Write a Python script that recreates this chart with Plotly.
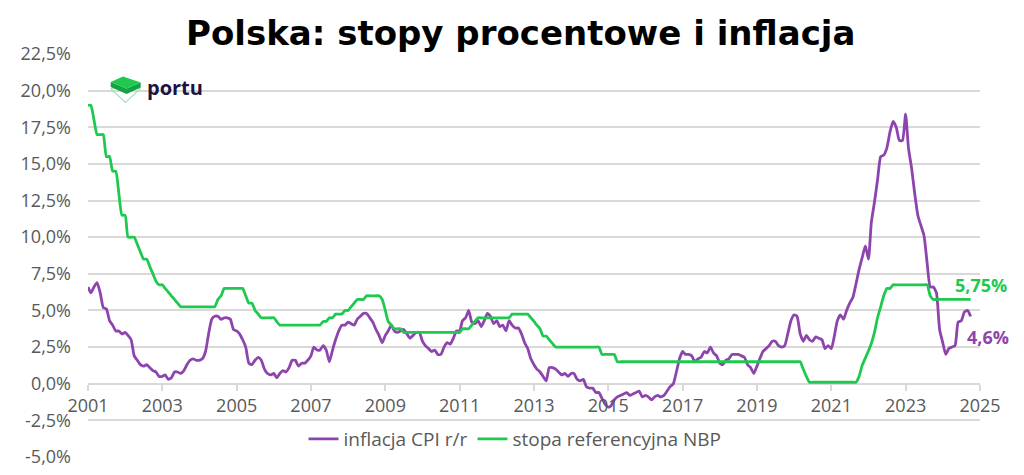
import pandas as pd
import plotly.graph_objects as go

# monthly points, first one sits on the "2001" tick
months = pd.date_range("2001-02-01", "2024-11-01", freq="MS")

# inflacja CPI r/r (%)
cpi = [
    6.6, 6.2, 6.6, 6.9, 6.2, 5.2, 5.1, 4.3, 4.0, 3.6, 3.6,
    3.4, 3.5, 3.3, 3.0, 1.9, 1.6, 1.3, 1.2, 1.3, 1.1, 0.9, 0.8,
    0.5, 0.5, 0.6, 0.3, 0.4, 0.8, 0.8, 0.7, 0.9, 1.3, 1.6, 1.7,
    1.6, 1.6, 1.7, 2.2, 3.4, 4.4, 4.6, 4.6, 4.4, 4.5, 4.5, 4.4,
    3.7, 3.6, 3.4, 3.0, 2.5, 1.4, 1.3, 1.6, 1.8, 1.6, 1.0, 0.7,
    0.6, 0.7, 0.4, 0.7, 0.9, 0.8, 1.1, 1.6, 1.6, 1.2, 1.4, 1.4,
    1.6, 1.9, 2.5, 2.3, 2.3, 2.6, 2.3, 1.5, 2.3, 3.0, 3.6, 4.0,
    4.0, 4.2, 4.1, 4.0, 4.4, 4.6, 4.8, 4.8, 4.5, 4.2, 3.7, 3.3,
    2.8, 3.3, 3.6, 4.0, 3.6, 3.5, 3.6, 3.7, 3.4, 3.1, 3.3, 3.5,
    3.5, 2.9, 2.6, 2.4, 2.2, 2.3, 2.0, 2.0, 2.5, 2.8, 2.7, 3.1,
    3.6, 3.6, 4.3, 4.5, 5.0, 4.2, 4.1, 4.3, 3.9, 4.3, 4.8, 4.6,
    4.1, 4.3, 3.9, 4.0, 3.6, 4.3, 4.0, 3.8, 3.8, 3.4, 2.8, 2.4,
    1.7, 1.3, 1.0, 0.8, 0.5, 0.2, 1.1, 1.1, 1.0, 0.8, 0.6, 0.7,
    0.5, 0.7, 0.7, 0.3, 0.2, 0.3, -0.2, -0.3, -0.3, -0.6, -0.6, -1.0,
    -1.4, -1.6, -1.5, -1.1, -0.9, -0.8, -0.7, -0.6, -0.8, -0.7, -0.6, -0.5,
    -0.9, -0.8, -0.9, -1.1, -0.9, -0.8, -0.9, -0.8, -0.5, -0.2, 0.0, 0.8,
    1.7, 2.2, 2.0, 2.0, 1.9, 1.5, 1.7, 1.8, 2.2, 2.1, 2.5, 2.1,
    1.9, 1.4, 1.3, 1.6, 1.7, 2.0, 2.0, 2.0, 1.9, 1.8, 1.3, 1.1,
    0.7, 1.2, 1.7, 2.2, 2.4, 2.6, 2.9, 2.9, 2.6, 2.5, 2.6, 3.4,
    4.3, 4.7, 4.6, 3.4, 2.9, 3.3, 3.0, 2.9, 3.2, 3.1, 3.0, 2.4,
    2.6, 2.4, 3.2, 4.3, 4.7, 4.4, 5.0, 5.5, 5.9, 6.8, 7.8, 8.6,
    9.4, 8.5, 11.0, 12.4, 13.9, 15.5, 15.6, 16.1, 17.2, 17.9, 17.5, 16.6,
    16.6, 18.4, 16.1, 14.7, 13.0, 11.5, 10.8, 10.1, 8.2, 6.6, 6.6, 6.2,
    3.7, 2.8, 2.0, 2.4, 2.5, 2.6, 4.2, 4.3, 4.9, 5.0, 4.6,
]

# stopa referencyjna NBP (%)
ref_rate = [
    19.0, 19.0, 18.0, 17.0, 17.0, 17.0, 15.5, 15.5, 14.5, 14.5, 13.0,
    11.5, 11.5, 10.0, 10.0, 10.0, 9.5, 9.0, 8.5, 8.5, 8.0, 7.5, 7.0,
    6.75, 6.75, 6.5, 6.25, 6.0, 5.75, 5.5, 5.25, 5.25, 5.25, 5.25, 5.25,
    5.25, 5.25, 5.25, 5.25, 5.25, 5.25, 5.25, 5.75, 6.0, 6.5, 6.5, 6.5,
    6.5, 6.5, 6.5, 6.5, 6.0, 5.5, 5.5, 5.0, 4.75, 4.5, 4.5, 4.5,
    4.5, 4.5, 4.25, 4.0, 4.0, 4.0, 4.0, 4.0, 4.0, 4.0, 4.0, 4.0,
    4.0, 4.0, 4.0, 4.0, 4.0, 4.25, 4.25, 4.5, 4.5, 4.75, 4.75, 4.75,
    5.0, 5.0, 5.25, 5.5, 5.75, 5.75, 5.75, 6.0, 6.0, 6.0, 6.0, 6.0,
    5.75, 5.0, 4.25, 4.0, 3.75, 3.75, 3.75, 3.5, 3.5, 3.5, 3.5, 3.5,
    3.5, 3.5, 3.5, 3.5, 3.5, 3.5, 3.5, 3.5, 3.5, 3.5, 3.5, 3.5,
    3.5, 3.5, 3.75, 3.75, 3.75, 4.0, 4.25, 4.5, 4.5, 4.5, 4.5, 4.5,
    4.5, 4.5, 4.5, 4.5, 4.5, 4.5, 4.75, 4.75, 4.75, 4.75, 4.75, 4.75,
    4.5, 4.25, 4.0, 3.75, 3.25, 3.25, 3.0, 2.75, 2.5, 2.5, 2.5, 2.5,
    2.5, 2.5, 2.5, 2.5, 2.5, 2.5, 2.5, 2.5, 2.5, 2.5, 2.5, 2.0,
    2.0, 2.0, 2.0, 2.0, 1.5, 1.5, 1.5, 1.5, 1.5, 1.5, 1.5, 1.5,
    1.5, 1.5, 1.5, 1.5, 1.5, 1.5, 1.5, 1.5, 1.5, 1.5, 1.5, 1.5,
    1.5, 1.5, 1.5, 1.5, 1.5, 1.5, 1.5, 1.5, 1.5, 1.5, 1.5, 1.5,
    1.5, 1.5, 1.5, 1.5, 1.5, 1.5, 1.5, 1.5, 1.5, 1.5, 1.5, 1.5,
    1.5, 1.5, 1.5, 1.5, 1.5, 1.5, 1.5, 1.5, 1.5, 1.5, 1.5, 1.5,
    1.5, 1.5, 1.5, 1.5, 1.0, 0.5, 0.1, 0.1, 0.1, 0.1, 0.1, 0.1,
    0.1, 0.1, 0.1, 0.1, 0.1, 0.1, 0.1, 0.1, 0.1, 0.1, 0.5, 1.25,
    1.75, 2.25, 2.75, 3.5, 4.5, 5.25, 6.0, 6.5, 6.5, 6.75, 6.75, 6.75,
    6.75, 6.75, 6.75, 6.75, 6.75, 6.75, 6.75, 6.75, 6.75, 6.0, 5.75, 5.75,
    5.75, 5.75, 5.75, 5.75, 5.75, 5.75, 5.75, 5.75, 5.75, 5.75, 5.75,
]

tick_dates = pd.date_range("2001-02-01", "2025-02-01", freq="24MS")
tick_labels = [str(y) for y in range(2001, 2026, 2)]

y_ticks = [-5.0, -2.5, 0.0, 2.5, 5.0, 7.5, 10.0, 12.5, 15.0, 17.5, 20.0, 22.5]
y_labels = [f"{v:.1f}".replace(".", ",") + "%" for v in y_ticks]

PURPLE = "#8e44ad"
GREEN = "#1fc94f"
GREY = "#595959"
GRID = "#d9d9d9"
FONT = "Open Sans"

# the page body adds 8px on the left/top, so the figure is a bit smaller
OFF = 8
W, H = 1024 - OFF, 475 - OFF
ML, MT = 88 - OFF, 54 - OFF
MR, MB = 44, 18
PW, PH = W - ML - MR, H - MT - MB


# screen pixel -> paper coords
def px(x):
    return (x - OFF - ML) / PW


def py(y):
    return (H - MB - (y - OFF)) / PH


fig = go.Figure()
fig.add_trace(go.Scatter(
    x=months, y=cpi, name="inflacja CPI r/r", mode="lines",
    line=dict(color=PURPLE, width=2.8, shape="spline", smoothing=0.5),
))
fig.add_trace(go.Scatter(
    x=months, y=ref_rate, name="stopa referencyjna NBP", mode="lines",
    line=dict(color=GREEN, width=2.8, shape="spline", smoothing=0.5),
))

# end labels
fig.add_annotation(
    x=months[-1], y=ref_rate[-1], xref="x", yref="y",
    text="<b>" + f"{ref_rate[-1]:.2f}".replace(".", ",") + "%</b>",
    showarrow=False, xshift=10, yshift=14,
    font=dict(family=FONT, size=18, color=GREEN),
)
fig.add_annotation(
    x=months[-1], y=cpi[-1], xref="x", yref="y",
    text="<b>" + f"{cpi[-1]:.1f}".replace(".", ",") + "%</b>",
    showarrow=False, xshift=17, yshift=-21,
    font=dict(family=FONT, size=18, color=PURPLE),
)

# title
fig.add_annotation(
    x=px(520), y=py(33), xref="paper", yref="paper",
    xanchor="center", yanchor="middle",
    text="<b>Polska: stopy procentowe i inflacja</b>", showarrow=False,
    font=dict(family="DejaVu Sans", size=34, color="black"),
)

# portu logo
outline = f"M {px(111)},{py(89)} L {px(125.5)},{py(82)} L {px(140)},{py(89)} L {px(125.5)},{py(102.5)} Z"
side = f"M {px(110.7)},{py(82)} L {px(126.5)},{py(88.5)} L {px(140.7)},{py(82.5)} L {px(140.7)},{py(87.5)} L {px(126.5)},{py(94)} L {px(110.7)},{py(87)} Z"
top = f"M {px(110.7)},{py(82)} L {px(123)},{py(76.5)} L {px(140.7)},{py(82.5)} L {px(126.5)},{py(88.5)} Z"
fig.add_shape(type="path", path=outline, xref="paper", yref="paper",
              line=dict(color="#9fe6b8", width=1.2), fillcolor="rgba(0,0,0,0)")
fig.add_shape(type="path", path=side, xref="paper", yref="paper",
              line=dict(width=0), fillcolor="#12a443")
fig.add_shape(type="path", path=top, xref="paper", yref="paper",
              line=dict(width=0), fillcolor="#1fc94f")
fig.add_annotation(
    x=px(145), y=py(87), xref="paper", yref="paper",
    xanchor="left", yanchor="middle",
    text="<b>portu</b>", showarrow=False,
    font=dict(family=FONT, size=20, color="#1d1340"),
)

fig.update_xaxes(
    type="date",
    range=[tick_dates[0], tick_dates[-1]],
    tickvals=tick_dates, ticktext=tick_labels,
    showgrid=False, zeroline=False, showline=False,
    ticks="outside", ticklen=6, tickcolor=GRID, tickwidth=1.5,
    anchor="free", position=5 / 27.5, automargin=False,
    tickfont=dict(family=FONT, size=18, color=GREY),
)
fig.update_yaxes(
    range=[-5, 22.5], tickvals=y_ticks, ticktext=y_labels,
    showgrid=True, gridcolor=GRID, gridwidth=1.5, zeroline=False,
    automargin=False,
    tickfont=dict(family=FONT, size=18, color=GREY),
    ticklabelstandoff=16,
)

fig.update_layout(
    width=W, height=H,
    margin=dict(l=ML, r=MR, t=MT, b=MB),
    plot_bgcolor="white", paper_bgcolor="white",
    showlegend=True,
    legend=dict(
        orientation="h", x=px(515), y=py(439), xanchor="center", yanchor="middle",
        font=dict(family=FONT, size=19, color=GREY),
        bgcolor="rgba(0,0,0,0)", itemwidth=30, tracegroupgap=0,
    ),
)

fig.write_html("out.html")
